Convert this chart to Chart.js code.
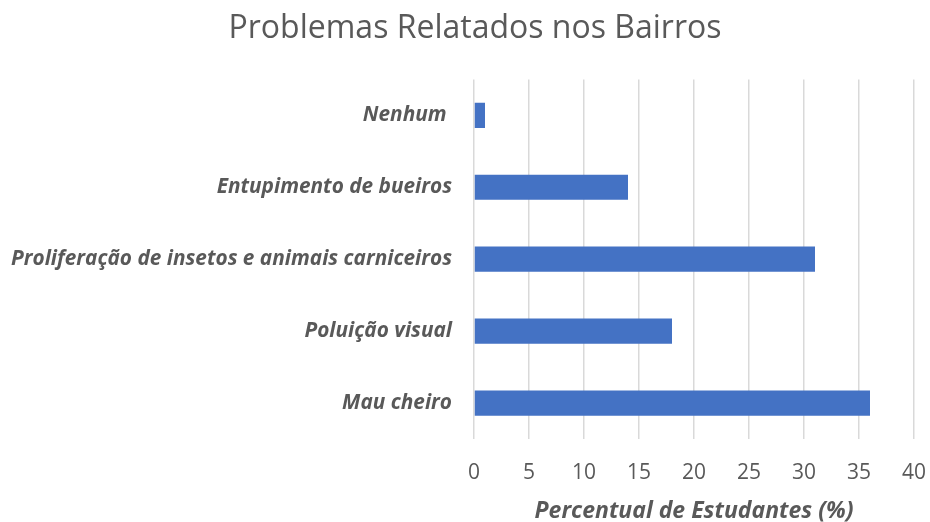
<!DOCTYPE html>
<html>
<head>
<meta charset="utf-8">
<script src="https://cdn.jsdelivr.net/npm/chart.js@4"></script>
<style>
html,body{margin:0;padding:0;background:#fff;}
#wrap{width:930px;height:522px;}
</style>
</head>
<body>
<div id="wrap"><canvas id="c" width="930" height="522"></canvas></div>
<script>
const categories = ["Nenhum ", "Entupimento de bueiros", "Proliferação de insetos e animais carniceiros", "Poluição visual", "Mau cheiro"];
const values = [1, 14, 31, 18, 36];
const titleText = "Problemas Relatados nos Bairros";
const xAxisTitle = "Percentual de Estudantes (%)";

const FONT = "'Open Sans', 'Noto Sans', sans-serif";
const GRAY = "#595959";

const shiftTitle = {
  id: 'shiftTitle',
  afterLayout(chart) {
    const t = chart.titleBlock;
    if (t) { t.left += 12.5; t.right += 12.5; }
  }
};

new Chart(document.getElementById('c'), {
  type: 'bar',
  data: {
    labels: categories,
    datasets: [{
      data: values,
      backgroundColor: '#4472C4',
      borderWidth: 0,
      barPercentage: 0.7,
      categoryPercentage: 0.5
    }]
  },
  plugins: [shiftTitle],
  options: {
    indexAxis: 'y',
    responsive: false,
    animation: false,
    devicePixelRatio: 1,
    layout: { padding: { left: 0, right: 5, top: 10, bottom: 0 } },
    plugins: {
      legend: { display: false },
      tooltip: { enabled: false },
      title: {
        display: true,
        text: titleText,
        color: GRAY,
        font: { family: FONT, size: 32, weight: 'normal' },
        padding: { top: 0, bottom: 31 }
      }
    },
    scales: {
      x: {
        min: 0, max: 40,
        afterFit: (s) => { s.height = 83; s.paddingRight = 16; },
        ticks: { stepSize: 5, color: GRAY, font: { family: FONT, size: 21 }, padding: 21 },
        grid: { color: '#d9d9d9', lineWidth: 1.5, drawTicks: false },
        border: { display: false },
        title: {
          display: true,
          text: xAxisTitle,
          color: GRAY,
          font: { family: FONT, size: 23, weight: 'bold', style: 'italic', lineHeight: 1.0 },
          padding: { top: 0, bottom: -1 }
        }
      },
      y: {
        afterFit: (s) => { s.width = 474; },
        ticks: { color: GRAY, font: { family: FONT, size: 20.8, weight: 'bold', style: 'italic' }, padding: 22 },
        grid: { display: false, drawTicks: false },
        border: { display: false }
      }
    }
  }
});
</script>
</body>
</html>
